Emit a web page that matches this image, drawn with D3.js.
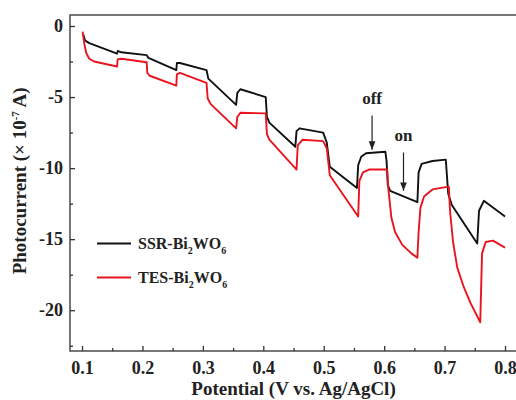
<!DOCTYPE html>
<html>
<head>
<meta charset="utf-8">
<script src="https://cdn.jsdelivr.net/npm/d3@7"></script>
<style>
  body { margin: 0; background: #fff; }
  svg { display: block; overflow: hidden; }
  text { font-family: "Liberation Serif", "Times New Roman", serif; font-weight: bold; fill: #222; }
</style>
</head>
<body>
<div id="chart"></div>
<script>
// Potential (V) / photocurrent (x 10^-7 A)
const ssrData = [
  [0.102, -0.6], [0.105, -1.0], [0.108, -1.1], [0.112, -1.2], [0.158, -1.95],
  [0.159, -1.75], [0.165, -1.85], [0.207, -2.05], [0.21, -2.25], [0.256, -3.1],
  [0.257, -2.6], [0.262, -2.6], [0.306, -3.1], [0.309, -3.7], [0.355, -5.55],
  [0.357, -4.7], [0.362, -4.45], [0.404, -5.0], [0.406, -6.4], [0.41, -6.8],
  [0.453, -8.5], [0.455, -7.4], [0.46, -7.2], [0.499, -7.5], [0.505, -8.2],
  [0.51, -9.9], [0.555, -11.4], [0.557, -9.8], [0.562, -9.2], [0.57, -8.95],
  [0.602, -8.85], [0.604, -9.5], [0.606, -11.2], [0.61, -11.6], [0.655, -12.4],
  [0.657, -10.3], [0.662, -9.7], [0.68, -9.5], [0.702, -9.4], [0.706, -11.8],
  [0.712, -12.6], [0.754, -15.3], [0.757, -13.0], [0.765, -12.3], [0.8, -13.4]
];
const tesData = [
  [0.101, -0.4], [0.104, -1.3], [0.107, -1.9], [0.112, -2.3], [0.12, -2.5],
  [0.158, -2.85], [0.159, -2.35], [0.165, -2.3], [0.207, -2.55], [0.208, -3.3],
  [0.212, -3.5], [0.256, -4.2], [0.257, -3.4], [0.262, -3.3], [0.306, -4.0],
  [0.308, -5.1], [0.313, -5.5], [0.355, -7.2], [0.357, -6.4], [0.362, -6.1],
  [0.404, -6.15], [0.406, -7.6], [0.41, -8.0], [0.455, -10.1], [0.457, -8.4],
  [0.465, -8.0], [0.499, -8.1], [0.505, -8.6], [0.51, -10.5], [0.557, -13.4],
  [0.559, -10.9], [0.565, -10.3], [0.575, -10.1], [0.605, -10.1], [0.607, -11.5],
  [0.612, -13.5], [0.618, -14.5], [0.63, -15.4], [0.645, -16.0], [0.655, -16.3],
  [0.657, -14.5], [0.66, -12.8], [0.666, -12.0], [0.68, -11.5], [0.707, -11.3],
  [0.709, -13.0], [0.714, -15.2], [0.721, -17.0], [0.732, -18.4], [0.743, -19.5],
  [0.759, -20.85], [0.762, -16.0], [0.768, -15.2], [0.78, -15.1], [0.8, -15.6]
];
const seriesNames = ["SSR-Bi", "TES-Bi"];
const seriesColors = ["#111111", "#e8141e"];
const xTicks = [0.1, 0.2, 0.3, 0.4, 0.5, 0.6, 0.7, 0.8];
const xMinor = [0.15, 0.25, 0.35, 0.45, 0.55, 0.65, 0.75];
const yTicks = [0, -5, -10, -15, -20];
const yMinor = [-2.5, -7.5, -12.5, -17.5, -22.5];
// annotation arrows: [label, potential, label current, arrow start, arrow end]
const marks = [["off", 0.58, -5.5, -6.3, -8.7], ["on", 0.632, -8.1, -8.9, -11.6]];

const W = 516, H = 400;
const margin = { top: 15, right: -4, bottom: 49, left: 70 };
const width = W - margin.left - margin.right;
const height = H - margin.top - margin.bottom;

const svg = d3.select("#chart").append("svg")
  .attr("width", W).attr("height", H);
const g = svg.append("g").attr("transform", `translate(${margin.left},${margin.top})`);

const x = d3.scaleLinear().domain([0.0801, 0.8248]).range([0, width]);
const y = d3.scaleLinear().domain([-22.87, 0.775]).range([height, 0]);

// frame
g.append("rect").attr("width", width).attr("height", height)
  .attr("fill", "none").attr("stroke", "#555").attr("stroke-width", 1.6);

function styleAxis(sel) {
  sel.select(".domain").remove();
  sel.selectAll("line").attr("stroke", "#333").attr("stroke-width", 1.3);
  sel.selectAll("text").style("font-size", "18px").attr("fill", "#222");
}

g.append("g").attr("transform", `translate(0,${height})`)
  .call(d3.axisBottom(x).tickValues(xTicks).tickSize(-5).tickPadding(10).tickFormat(d3.format(".1f")))
  .call(styleAxis);
g.append("g").attr("transform", `translate(0,${height})`)
  .call(d3.axisBottom(x).tickValues(xMinor).tickSize(-3).tickFormat(""))
  .call(styleAxis);
g.append("g")
  .call(d3.axisLeft(y).tickValues(yTicks).tickSize(-5).tickPadding(7).tickFormat(d => String(d)))
  .call(styleAxis);
g.append("g")
  .call(d3.axisLeft(y).tickValues(yMinor).tickSize(-3).tickFormat(""))
  .call(styleAxis);

// curves
const line = d3.line().x(d => x(d[0])).y(d => y(d[1]));
[ssrData, tesData].forEach((data, i) => {
  g.append("path").datum(data)
    .attr("fill", "none")
    .attr("stroke", seriesColors[i])
    .attr("stroke-width", 1.9)
    .attr("stroke-linejoin", "round")
    .attr("d", line);
});

// on/off arrows
svg.append("defs").append("marker")
  .attr("id", "arrow").attr("viewBox", "0 0 10 10")
  .attr("refX", 10).attr("refY", 5)
  .attr("markerWidth", 7).attr("markerHeight", 7)
  .attr("orient", "auto")
  .append("path").attr("d", "M0,1 L10,5 L0,9 Z").attr("fill", "#222");

marks.forEach(m => {
  g.append("text").attr("x", x(m[1])).attr("y", y(m[2]))
    .attr("text-anchor", "middle").style("font-size", "17px").text(m[0]);
  g.append("line")
    .attr("x1", x(m[1])).attr("x2", x(m[1]))
    .attr("y1", y(m[3])).attr("y2", y(m[4]))
    .attr("stroke", "#222").attr("stroke-width", 1.2)
    .attr("marker-end", "url(#arrow)");
});

// legend
const legend = g.append("g").attr("transform", `translate(27,${y(-15.3)})`);
seriesNames.forEach((name, i) => {
  const row = legend.append("g").attr("transform", `translate(0,${i * 34})`);
  row.append("line").attr("x1", 0).attr("x2", 34)
    .attr("stroke", seriesColors[i]).attr("stroke-width", 2);
  const t = row.append("text").attr("x", 41).attr("y", 6).style("font-size", "16px");
  t.append("tspan").text(name);
  t.append("tspan").attr("dy", 5).style("font-size", "10px").text("2");
  t.append("tspan").attr("dy", -5).text("WO");
  t.append("tspan").attr("dy", 5).style("font-size", "10px").text("6");
});

// axis titles
svg.append("text")
  .attr("x", margin.left + x(0.45)).attr("y", 395)
  .attr("text-anchor", "middle").style("font-size", "19px")
  .text("Potential (V vs. Ag/AgCl)");

const yt = svg.append("text")
  .attr("transform", `translate(26,${margin.top + y(-10.9)}) rotate(-90)`)
  .attr("text-anchor", "middle").style("font-size", "19px");
yt.append("tspan").text("Photocurrent (\u00d7 10");
yt.append("tspan").attr("dy", -7).style("font-size", "11px").text("-7");
yt.append("tspan").attr("dy", 7).text(" A)");
</script>
</body>
</html>
